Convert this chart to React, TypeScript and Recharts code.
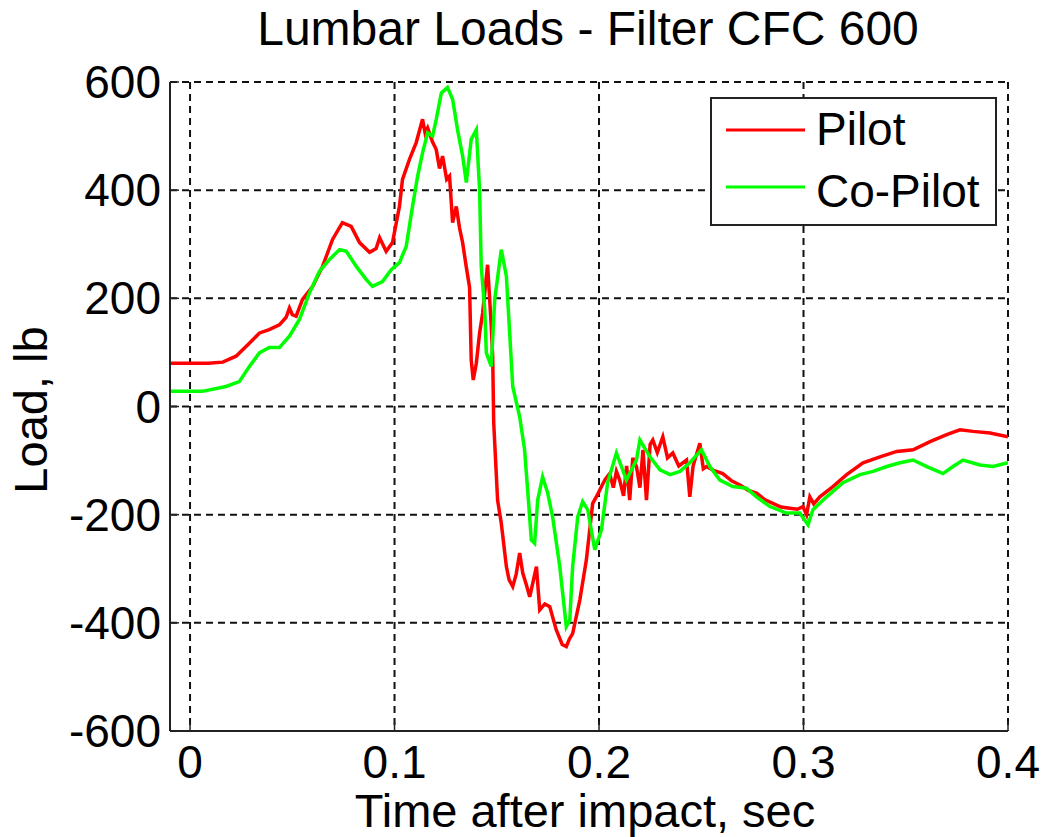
import React from 'react'
import { LineChart, Line, XAxis, YAxis, CartesianGrid, Legend } from 'recharts'

// tiempos (s) y cargas (lb)
const pilotTime = [
  -0.0098, 0.009, 0.016, 0.0225, 0.029, 0.034, 0.0387, 0.0437, 0.047, 0.0486, 0.05, 0.0519, 0.055, 0.06, 0.0648,
  0.0697, 0.0745, 0.0788, 0.0829, 0.0878, 0.091, 0.0927, 0.0959, 0.099, 0.1024, 0.1039, 0.1073, 0.1106, 0.1137,
  0.115, 0.1162, 0.1185, 0.1204, 0.122, 0.1235, 0.1255, 0.1269, 0.1284, 0.1302, 0.1318, 0.1333, 0.135, 0.1367,
  0.1375, 0.1385, 0.14, 0.1416, 0.1431, 0.1455, 0.1465, 0.1473, 0.148, 0.1485, 0.1504, 0.1522, 0.1547, 0.156,
  0.1578, 0.1595, 0.1612, 0.1627, 0.1645, 0.1661, 0.1694, 0.171, 0.1735, 0.1759, 0.1791, 0.182, 0.184, 0.1855,
  0.1871, 0.1906, 0.1938, 0.1969, 0.199, 0.2012, 0.203, 0.2052, 0.207, 0.2085, 0.2101, 0.212, 0.2135, 0.215,
  0.2165, 0.2183, 0.22, 0.2215, 0.2232, 0.225, 0.2263, 0.2285, 0.2312, 0.2335, 0.2361, 0.239, 0.2428, 0.2444,
  0.246, 0.2493, 0.251, 0.2526, 0.256, 0.2605, 0.265, 0.2689, 0.273, 0.277, 0.281, 0.285, 0.289, 0.2933, 0.297,
  0.2997, 0.3015, 0.3031, 0.305, 0.308, 0.3144, 0.3211, 0.3291, 0.3374, 0.3456, 0.3536, 0.3619, 0.37, 0.3765,
  0.3829, 0.3912, 0.4,
]
const pilotLoad = [
  80, 80, 82, 93, 117, 136, 142, 151, 165, 182, 170, 167, 198, 222, 259,
  309, 340, 333, 303, 285, 292, 312, 287, 303, 370, 420, 457, 488, 531,
  505, 515, 490, 475, 440, 463, 420, 426, 340, 370, 330, 303, 260, 220,
  86, 49, 80, 136, 173, 262, 200, 148, 93, -30, -173, -216, -296, -320,
  -333, -310, -271, -308, -330, -352, -296, -376, -365, -370, -413, -440, -444, -430,
  -420, -358, -284, -179, -165, -148, -135, -124, -150, -120, -136, -165, -110, -173,
  -95, -111, -150, -80, -173, -70, -62, -85, -56, -95, -86, -110, -99, -167,
  -110, -68, -115, -111, -118, -124, -138, -145, -155, -160, -172, -179, -186, -188, -190,
  -185, -200, -167, -180, -167, -148, -126, -104, -93, -83, -80, -65, -52, -43,
  -46, -49, -56,
]

const coPilotTime = [
  -0.0098, 0.006, 0.0176, 0.0241, 0.029, 0.0339, 0.0387, 0.0437, 0.0486, 0.0535, 0.0584, 0.0633, 0.0682, 0.0731,
  0.0764, 0.0813, 0.0861, 0.0892, 0.0941, 0.0984, 0.1024, 0.1057, 0.1088, 0.1113, 0.1137, 0.1162, 0.1186, 0.1204,
  0.1229, 0.1259, 0.1284, 0.1308, 0.1333, 0.1351, 0.1375, 0.14, 0.1416, 0.1424, 0.1441, 0.1449, 0.1473, 0.149,
  0.1522, 0.1547, 0.1563, 0.1578, 0.1612, 0.1636, 0.1651, 0.1669, 0.1685, 0.17, 0.1724, 0.1749, 0.1773, 0.1808,
  0.184, 0.1857, 0.1871, 0.1896, 0.192, 0.1945, 0.1979, 0.2012, 0.2042, 0.2085, 0.2134, 0.2183, 0.22, 0.2249,
  0.2298, 0.2347, 0.2396, 0.2444, 0.2501, 0.2542, 0.2591, 0.2654, 0.2721, 0.277, 0.2836, 0.2917, 0.2982, 0.3022,
  0.3046, 0.3113, 0.3193, 0.3276, 0.334, 0.3407, 0.3472, 0.3536, 0.3603, 0.3682, 0.3731, 0.378, 0.3863, 0.3927, 0.4,
]
const coPilotLoad = [
  28, 28, 37, 46, 74, 99, 109, 109, 130, 161, 210, 250, 272, 290,
  287, 259, 235, 222, 231, 253, 266, 296, 370, 426, 469, 506, 500, 531,
  580, 590, 568, 512, 463, 414, 494, 512, 400, 259, 179, 99, 74, 198,
  290, 241, 136, 37, -19, -80, -154, -247, -253, -173, -130, -160, -204, -296,
  -407, -395, -296, -204, -176, -191, -265, -228, -141, -86, -136, -99, -62, -93,
  -117, -126, -120, -104, -80, -111, -136, -148, -151, -167, -185, -197, -197, -219,
  -191, -167, -141, -126, -120, -111, -104, -99, -111, -124, -111, -99, -108, -111, -104,
]

const xTicks = [0, 0.1, 0.2, 0.3, 0.4]
const yTicks = [-600, -400, -200, 0, 200, 400, 600]

const pilotData = pilotTime.map((t, i) => ({ t, load: pilotLoad[i] }))
const coPilotData = coPilotTime.map((t, i) => ({ t, load: coPilotLoad[i] }))

const FONT = '"Liberation Sans", Arial, sans-serif'
const INK = '#222'
const TICK_LEN = 9

const BottomTick = ({ x, y, payload }: any) => (
  <g>
    <line x1={x} x2={x} y1={y} y2={y - TICK_LEN} stroke={INK} strokeWidth={1.5} />
    <text x={x} y={y + 47} textAnchor="middle" fontSize={46} fontFamily={FONT} fill="#000">
      {String(payload.value)}
    </text>
  </g>
)

const LeftTick = ({ x, y, payload }: any) => (
  <g>
    <line x1={x} x2={x + TICK_LEN} y1={y} y2={y} stroke={INK} strokeWidth={1.5} />
    <text x={x - 9} y={y + 16} textAnchor="end" fontSize={46} fontFamily={FONT} fill="#000">
      {String(payload.value)}
    </text>
  </g>
)

const TopTick = ({ x, y }: any) => (
  <line x1={x} x2={x} y1={y} y2={y + TICK_LEN} stroke={INK} strokeWidth={1.5} />
)

const RightTick = ({ x, y }: any) => (
  <line x1={x} x2={x - TICK_LEN} y1={y} y2={y} stroke={INK} strokeWidth={1.5} />
)

const LegendBox = () => (
  <svg width={287} height={129} style={{ display: 'block' }}>
    <rect x={1} y={1} width={285} height={127} fill="#fff" stroke={INK} strokeWidth={2} />
    <line x1={16} x2={95} y1={33} y2={33} stroke="#ff0000" strokeWidth={3} />
    <text x={106} y={48} fontSize={46} fontFamily={FONT} fill="#000">Pilot</text>
    <line x1={16} x2={95} y1={90} y2={90} stroke="#00ff00" strokeWidth={3} />
    <text x={106} y={110} fontSize={46} fontFamily={FONT} fill="#000">Co-Pilot</text>
  </svg>
)

const axisLine = { stroke: INK, strokeWidth: 2 }

export default function App() {
  return (
    <div style={{ position: 'absolute', left: 0, top: 0, width: 1044, height: 837, background: '#fff', fontFamily: FONT }}>
      <LineChart width={1044} height={837} margin={{ top: 82, right: 36, bottom: 0, left: 0 }}>
        <CartesianGrid stroke="#111" strokeWidth={2} strokeDasharray="7 5" />
        <XAxis
          dataKey="t"
          type="number"
          domain={[-0.0098, 0.4]}
          allowDataOverflow
          ticks={xTicks}
          height={106}
          tickSize={0}
          tickMargin={0}
          tickLine={false}
          axisLine={axisLine}
          tick={<BottomTick />}
        />
        <XAxis
          xAxisId="top"
          orientation="top"
          type="number"
          domain={[-0.0098, 0.4]}
          allowDataOverflow
          ticks={xTicks}
          height={0}
          tickSize={0}
          tickMargin={0}
          tickLine={false}
          axisLine={axisLine}
          tick={<TopTick />}
        />
        <YAxis
          type="number"
          domain={[-600, 600]}
          allowDataOverflow
          ticks={yTicks}
          width={170}
          tickSize={0}
          tickMargin={0}
          tickLine={false}
          axisLine={axisLine}
          tick={<LeftTick />}
        />
        <YAxis
          yAxisId="right"
          orientation="right"
          type="number"
          domain={[-600, 600]}
          allowDataOverflow
          ticks={yTicks}
          width={0}
          tickSize={0}
          tickMargin={0}
          tickLine={false}
          axisLine={axisLine}
          tick={<RightTick />}
        />
        <Line
          data={pilotData}
          dataKey="load"
          name="Pilot"
          type="linear"
          stroke="#ff0000"
          strokeWidth={3.5}
          dot={false}
          isAnimationActive={false}
        />
        <Line
          data={coPilotData}
          dataKey="load"
          name="Co-Pilot"
          type="linear"
          stroke="#00ff00"
          strokeWidth={3.5}
          dot={false}
          isAnimationActive={false}
        />
        <Legend
          layout="vertical"
          verticalAlign="middle"
          align="center"
          wrapperStyle={{ left: 710, top: 97, width: 287, height: 129 }}
          content={<LegendBox />}
        />
      </LineChart>
      <svg
        width={1044}
        height={837}
        style={{ position: 'absolute', left: 0, top: 0, pointerEvents: 'none' }}
      >
        <text x={588} y={45} textAnchor="middle" fontSize={48} fontFamily={FONT} fill="#000">
          Lumbar Loads - Filter CFC 600
        </text>
        <text x={585} y={827} textAnchor="middle" fontSize={47} fontFamily={FONT} fill="#000">
          Time after impact, sec
        </text>
        <text
          x={0}
          y={0}
          transform="translate(47 410) rotate(-90)"
          textAnchor="middle"
          fontSize={47}
          fontFamily={FONT}
          fill="#000"
        >
          Load, lb
        </text>
      </svg>
    </div>
  )
}
